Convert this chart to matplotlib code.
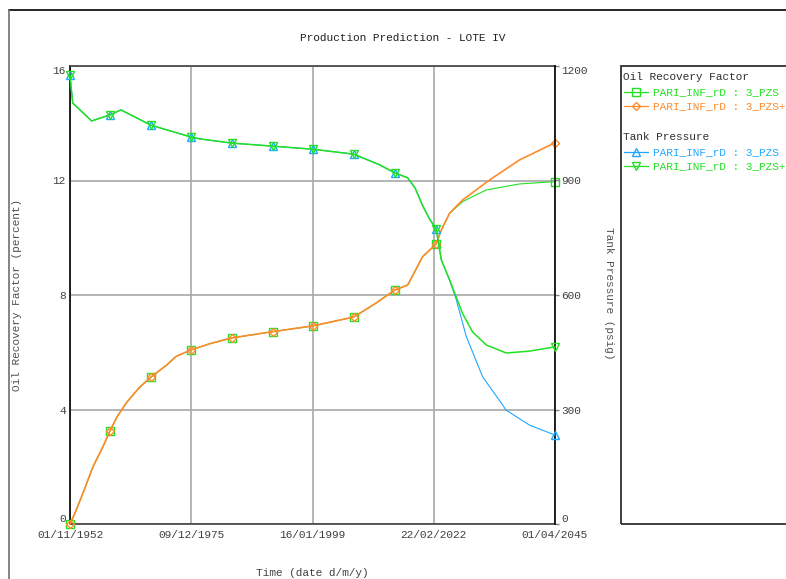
import datetime as dt
import matplotlib
matplotlib.use("Agg")
import matplotlib.pyplot as plt
import matplotlib.dates as mdates
from matplotlib.lines import Line2D
from matplotlib.patches import Rectangle

# ---------------- data (decimal years) ----------------
TITLE = "Production Prediction - LOTE IV"
X_LABEL = "Time (date d/m/y)"
Y_LEFT_LABEL = "Oil Recovery Factor (percent)"
Y_RIGHT_LABEL = "Tank Pressure (psig)"
X_TICKS = ["1952-11-01", "1975-12-09", "1999-01-16", "2022-02-22", "2045-04-01"]
Y_LEFT_TICKS = [0, 4, 8, 12, 16]
Y_RIGHT_TICKS = [0, 300, 600, 900, 1200]
SERIES_LABEL = "PARI_INF_rD : 3_PZS"
SERIES_LABEL_PLUS = "PARI_INF_rD : 3_PZS+"

# Oil recovery factor, shared history
orf_hist_years = [1952.83, 1953.78, 1955.31, 1957.21, 1959.11, 1960.45, 1961.78, 1963.68,
                  1966.16, 1968.25, 1971.30, 1973.00, 1975.87, 1979.50, 1983.67, 1991.48,
                  1999.09, 2006.90, 2011.00, 2014.70, 2017.18, 2020.03, 2022.60]
orf_hist = [0.0, 0.38, 1.08, 2.00, 2.70, 3.25, 3.74, 4.26,
            4.79, 5.13, 5.56, 5.85, 6.08, 6.30, 6.50, 6.72,
            6.92, 7.23, 7.70, 8.17, 8.35, 9.34, 9.78]
orf_hist_markers = [0, 5, 9, 12, 14, 15, 16, 17, 19, 22]

# Oil recovery factor forecasts
orf_pzs_years = [2023.59, 2025.17, 2027.65, 2029.55, 2032.16, 2038.50, 2045.25]
orf_pzs = [10.27, 10.86, 11.26, 11.44, 11.67, 11.88, 11.96]
orf_pzsp_years = [2023.59, 2025.17, 2027.65, 2032.79, 2038.50, 2045.25]
orf_pzsp = [10.27, 10.86, 11.32, 12.02, 12.72, 13.32]

# Tank pressure, shared history
p_hist_years = [1952.83, 1953.35, 1956.96, 1960.45, 1962.54, 1968.25, 1975.87, 1977.58,
                1983.67, 1991.48, 1999.09, 2006.90, 2011.85, 2014.70, 2017.18, 2018.60,
                2020.00, 2021.30, 2022.60]
p_hist = [1176, 1103, 1056, 1072, 1085, 1045, 1014, 1009,
          998, 990, 982, 969, 941, 920, 907, 880,
          835, 800, 773]
p_hist_markers = [0, 3, 5, 6, 8, 9, 10, 11, 13, 18]

# Tank pressure forecasts
p_pzs_years = [2023.59, 2025.17, 2026.45, 2028.35, 2031.45, 2035.97, 2040.40, 2045.25]
p_pzs = [692, 639, 587, 491, 386, 298, 259, 233]
p_pzsp_years = [2023.59, 2025.17, 2026.45, 2027.65, 2029.55, 2032.16, 2035.97, 2040.40, 2045.25]
p_pzsp = [692, 639, 594, 551, 503, 469, 448, 453, 464]

# ---------------- helpers ----------------
def to_date(y):
    year = int(y)
    start = dt.datetime(year, 1, 1)
    end = dt.datetime(year + 1, 1, 1)
    return start + (end - start) * (y - year)

GREEN = "#22e022"
ORANGE = "#ff8a2a"
BLUE = "#1ea8ff"
FONT = "Liberation Mono"
FS = 8

plt.rcParams["font.family"] = [FONT, "DejaVu Sans"]
plt.rcParams["font.size"] = FS

W, H = 786, 579
fig = plt.figure(figsize=(W / 100, H / 100), dpi=100)
fig.patch.set_facecolor("white")

def fx(px):
    return px / W

def fy(py):
    return 1 - py / H

ax = fig.add_axes([fx(70), fy(524), (555 - 70) / W, (524 - 66) / H])
ax2 = ax.twinx()

def series(hy, hv, fyrs, fv):
    xs = [to_date(v) for v in hy + fyrs]
    return xs, hv + fv

# ORF lines
x, y = series(orf_hist_years, orf_hist, orf_pzs_years, orf_pzs)
mk = orf_hist_markers + [len(x) - 1]
ax.plot(x, y, color=GREEN, lw=0.8, marker="s", ms=6.0, mfc="none", mec=GREEN, mew=1.0,
        markevery=mk, clip_on=False, zorder=3)
x, y = series(orf_hist_years, orf_hist, orf_pzsp_years, orf_pzsp)
mk = orf_hist_markers + [len(x) - 1]
ax.plot(x, y, color=ORANGE, lw=1.2, marker="D", ms=4.5, mfc="none", mec=ORANGE, mew=1.0,
        markevery=mk, clip_on=False, zorder=4)

# pressure lines
x, y = series(p_hist_years, p_hist, p_pzs_years, p_pzs)
mk = p_hist_markers + [len(x) - 1]
ax2.plot(x, y, color=BLUE, lw=0.8, marker="^", ms=6.0, mfc="none", mec=BLUE, mew=1.0,
         markevery=mk, clip_on=False, zorder=3)
x, y = series(p_hist_years, p_hist, p_pzsp_years, p_pzsp)
mk = p_hist_markers + [len(x) - 1]
ax2.plot(x, y, color=GREEN, lw=1.1, marker="v", ms=6.0, mfc="none", mec=GREEN, mew=1.0,
         markevery=mk, clip_on=False, zorder=4)

# axes limits / ticks
xt = [dt.datetime.strptime(s, "%Y-%m-%d") for s in X_TICKS]
ax.set_xlim(xt[0], xt[-1])
ax.set_xticks(xt)
ax.xaxis.set_major_formatter(mdates.DateFormatter("%d/%m/%Y"))
ax.set_ylim(Y_LEFT_TICKS[0], Y_LEFT_TICKS[-1])
ax.set_yticks(Y_LEFT_TICKS)
ax2.set_ylim(Y_RIGHT_TICKS[0], Y_RIGHT_TICKS[-1])
ax2.set_yticks(Y_RIGHT_TICKS)

ax.grid(True, color="#a8a8a8", lw=1.2)
ax.set_axisbelow(True)
ax.tick_params(axis="x", length=0, pad=4.5, labelsize=FS, labelcolor="#404040")
ax.tick_params(axis="y", length=0, pad=3, labelsize=FS, labelcolor="#404040")
ax2.tick_params(axis="y", length=3, width=1, color="#808080", pad=1.5, labelsize=FS,
                labelcolor="#404040")

for a in (ax, ax2):
    ticks = a.yaxis.get_major_ticks()
    ticks[0].label1.set_va("bottom")
    ticks[0].label2.set_va("bottom")
    ticks[-1].label1.set_va("top")
    ticks[-1].label2.set_va("top")

for s in ax.spines.values():
    s.set_linewidth(1.2)
ax.spines["left"].set_color("#000000")
ax.spines["bottom"].set_color("#404040")
ax.spines["top"].set_color("#404040")
ax.spines["right"].set_visible(False)
for k in ("left", "top", "bottom"):
    ax2.spines[k].set_visible(False)
ax2.spines["right"].set_color("#000000")
ax2.spines["right"].set_linewidth(1.2)

# texts
fig.text(fx(403), fy(38), TITLE, ha="center", va="center", color="#202020", fontsize=FS)
fig.text(fx(312), fy(573), X_LABEL, ha="center", va="center", color="#404040", fontsize=FS)
fig.text(fx(17), fy(295), Y_LEFT_LABEL, ha="center", va="center", rotation=90,
         color="#505050", fontsize=FS)
fig.text(fx(609), fy(293), Y_RIGHT_LABEL, ha="center", va="center", rotation=270,
         color="#505050", fontsize=FS)

# outer frame
fig.add_artist(Line2D([fx(9), 1], [fy(10), fy(10)], color="#000000", lw=1.2))
fig.add_artist(Line2D([fx(9), fx(9)], [0, fy(10)], color="#707070", lw=1.2))

# legend box
fig.add_artist(Rectangle((fx(621), fy(524)), 0.5, (524 - 66) / H, fill=False,
                         edgecolor="#303030", lw=1.3, transform=fig.transFigure))

def legend_entry(py, color, marker, ms, label):
    fig.add_artist(Line2D([fx(624), fx(636), fx(648)], [fy(py)] * 3, color=color, lw=0.9,
                          marker=marker, ms=ms, mfc="none", mec=color, mew=1.0,
                          markevery=[1]))
    fig.text(fx(653), fy(py), label, ha="left", va="center", color=color, fontsize=FS)

fig.text(fx(623), fy(77), "Oil Recovery Factor", ha="left", va="center", color="#303030",
         fontsize=FS)
legend_entry(92, GREEN, "s", 6.0, SERIES_LABEL)
legend_entry(106, ORANGE, "D", 4.5, SERIES_LABEL_PLUS)
fig.text(fx(623), fy(137), "Tank Pressure", ha="left", va="center", color="#303030",
         fontsize=FS)
legend_entry(152, BLUE, "^", 6.0, SERIES_LABEL)
legend_entry(166, GREEN, "v", 6.0, SERIES_LABEL_PLUS)

fig.savefig("out.png", dpi=100)
